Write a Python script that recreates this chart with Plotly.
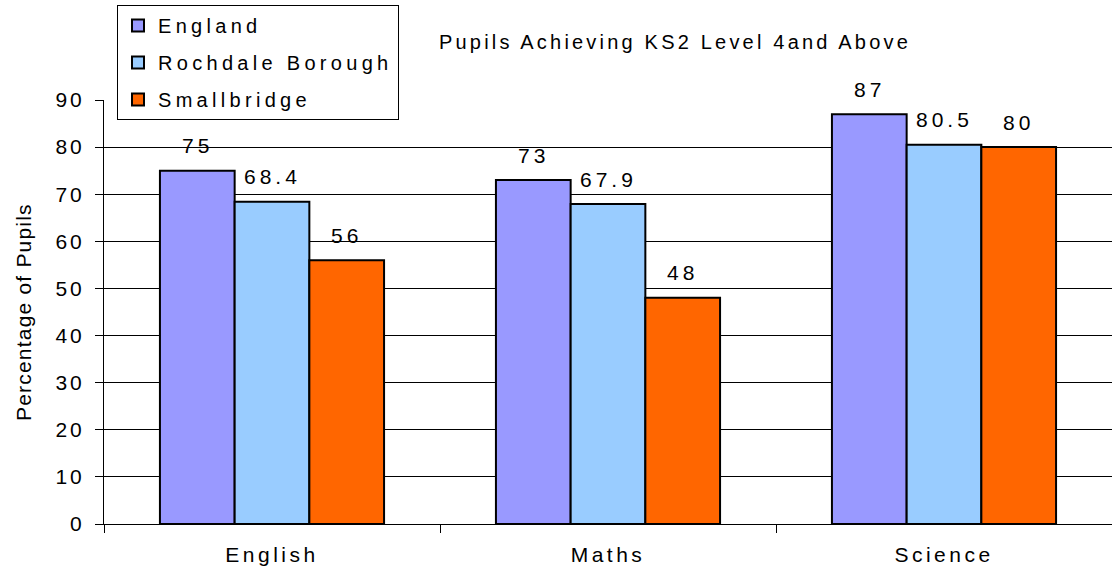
import plotly.graph_objects as go

categories = ["English", "Maths", "Science"]
series_names = ["England", "Rochdale Borough", "Smallbridge"]
england = [75, 73, 87]
rochdale = [68.4, 67.9, 80.5]
smallbridge = [56, 48, 80]
value_labels = [["75", "73", "87"], ["68.4", "67.9", "80.5"], ["56", "48", "80"]]
y_ticks = [0, 10, 20, 30, 40, 50, 60, 70, 80, 90]
colors = ["#9999FF", "#99CCFF", "#FF6600"]

W, H = 1112, 571
ML, MR, MT, MB = 104, 0, 100, 47
BARGAP = 0.333
FONT = "Liberation Sans, Arial, sans-serif"
plot_w = W - ML - MR
plot_h = H - MT - MB


def sp(t, ls=3):
    return f'<span style="letter-spacing:{ls}px">{t}</span>'


def px_to_paper_x(px):
    return (px - ML) / plot_w


def px_to_paper_y(py):
    return (H - MB - py) / plot_h


fig = go.Figure()
all_vals = [england, rochdale, smallbridge]
for i, (name, vals) in enumerate(zip(series_names, all_vals)):
    fig.add_trace(go.Bar(
        x=categories, y=vals, name=sp(name, 4.3),
        marker=dict(color=colors[i], line=dict(color="black", width=2)),
        legendgroup=f"g{i}", hoverinfo="skip",
    ))

# value labels above bars
cat_px = plot_w / len(categories)
bar_px = cat_px * (1 - BARGAP) / len(series_names)
for i, vals in enumerate(all_vals):
    for j, v in enumerate(vals):
        fig.add_annotation(
            x=categories[j], y=v, xref="x", yref="y",
            text=sp(value_labels[i][j], 4), showarrow=False,
            xshift=(i - 1) * bar_px, yshift=25, yanchor="middle",
            font=dict(family=FONT, size=21, color="black"),
        )

fig.add_annotation(
    text=sp("Pupils Achieving KS2 Level 4and Above", 3.2),
    xref="paper", yref="paper", x=px_to_paper_x(675), y=px_to_paper_y(42),
    xanchor="center", yanchor="middle", showarrow=False,
    font=dict(family=FONT, size=20, color="black"),
)

fig.add_annotation(
    text=sp("Percentage of Pupils", 1.2), textangle=-90,
    xref="paper", yref="paper", x=px_to_paper_x(23), y=0.5,
    xanchor="center", yanchor="middle", showarrow=False,
    font=dict(family=FONT, size=21, color="black"),
)

fig.update_layout(
    width=W, height=H,
    margin=dict(l=ML, r=MR, t=MT, b=MB),
    paper_bgcolor="white", plot_bgcolor="white",
    barmode="group", bargap=BARGAP, bargroupgap=0,
    font=dict(family=FONT, size=20, color="black"),
    showlegend=True,
    legend=dict(
        x=px_to_paper_x(117), y=px_to_paper_y(5),
        xanchor="left", yanchor="top",
        bgcolor="white", bordercolor="black", borderwidth=1,
        font=dict(family=FONT, size=20, color="black"),
        tracegroupgap=8, traceorder="grouped",
    ),
    xaxis=dict(
        showline=True, linecolor="black", linewidth=1,
        ticks="outside", ticklen=8, tickcolor="black", tickson="boundaries",
        tickvals=categories, ticktext=[sp(c, 3.5) for c in categories],
        tickfont=dict(family=FONT, size=21), showgrid=False,
        ticklabelstandoff=12,
    ),
    yaxis=dict(
        range=[0, 90], tickvals=y_ticks, ticktext=[sp(str(t), 3) for t in y_ticks],
        showline=True, linecolor="black", linewidth=1,
        ticks="outside", ticklen=8, tickcolor="black",
        showgrid=True, gridcolor="black", gridwidth=1,
        zeroline=False, ticklabelstandoff=6,
        tickfont=dict(family=FONT, size=21),
    ),
)

fig.write_html("out.html", config={"displayModeBar": False},
               post_script="document.body.style.margin='0';")
